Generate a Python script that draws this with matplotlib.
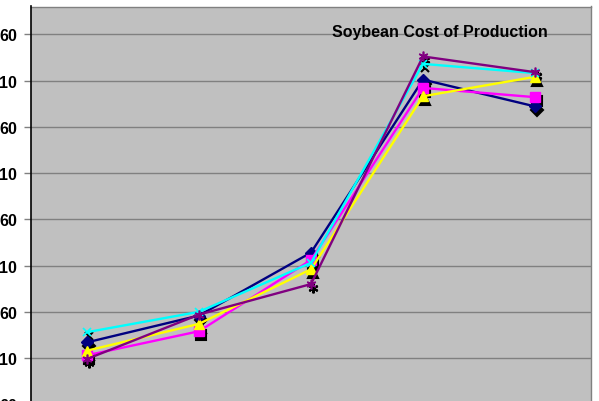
import matplotlib
matplotlib.use("Agg")
import matplotlib.pyplot as plt
from matplotlib.transforms import offset_copy

plt.rcParams['font.family'] = ['Liberation Sans', 'DejaVu Sans']

# Five periods on a category axis, values per series
periods = ["1", "2", "3", "4", "5"]
navy_vals = [127, 156, 224, 411, 382]
magenta_vals = [113, 139, 216, 402, 392]
yellow_vals = [118, 147, 206, 393, 414]
cyan_vals = [138, 160, 213, 428, 418]
purple_vals = [109, 157, 190, 436, 419]

# gridline values and the tick text that is visible in the cropped original
y_ticks = [60, 110, 160, 210, 260, 310, 360, 410, 460]
y_tick_labels = ["60", "10", "60", "10", "60", "10", "60", "10", "60"]

series = [
    (navy_vals, "#000080", "D", 6),
    (magenta_vals, "#FF00FF", "s", 6.5),
    (yellow_vals, "#FFFF00", "^", 7),
    (cyan_vals, "#00FFFF", "x", 6),
    (purple_vals, "#800080", (6, 2, 0), 7),
]

fig = plt.figure(figsize=(5.99, 4.02), dpi=100)
fig.patch.set_facecolor("white")

# plot area runs off the bottom of the canvas like the cropped original
W, H = 599, 402
left, right, top = 31, 591, 7.5
ymin, ymax = 10, 490
bottom_px = 451.6
ax = fig.add_axes([left / W, 1 - bottom_px / H, (right - left) / W, (bottom_px - top) / H])
ax.set_facecolor("#C0C0C0")

x = list(range(len(periods)))
for vals, color, marker, ms in series:
    # black marker shadow, shifted down-right
    shadow = offset_copy(ax.transData, fig=fig, x=2, y=-4, units="dots")
    ax.plot(x, vals, linestyle="none", marker=marker, markersize=ms,
            color="black", markeredgecolor="black", markeredgewidth=1.5,
            transform=shadow, zorder=2)
for vals, color, marker, ms in series:
    ax.plot(x, vals, color=color, linewidth=1.7, marker=marker, markersize=ms,
            markeredgecolor=color,
            markeredgewidth=1.2 if marker in ("x", (6, 2, 0)) else 1,
            zorder=3)

ax.set_xlim(-0.5, len(periods) - 0.5)
ax.set_ylim(ymin, ymax)
ax.set_xticks([])
ax.set_yticks(y_ticks)
ax.set_yticklabels(y_tick_labels, fontsize=11.5, fontweight="bold")
ax.tick_params(axis="y", length=5, width=1, color="#808080", pad=5.2)
ax.yaxis.grid(True, color="#808080", linewidth=1)
ax.set_axisbelow(True)

for side in ("top", "right"):
    ax.spines[side].set_color("#808080")
    ax.spines[side].set_linewidth(1)
ax.spines["left"].set_color("black")
ax.spines["left"].set_linewidth(1.2)
ax.spines["left"].set_zorder(5)

fig.text(440 / W, 1 - 32 / H, "Soybean Cost of Production", ha="center", va="center",
         fontsize=11.5, fontweight="bold", color="black")

fig.savefig("out.png", dpi=100)
